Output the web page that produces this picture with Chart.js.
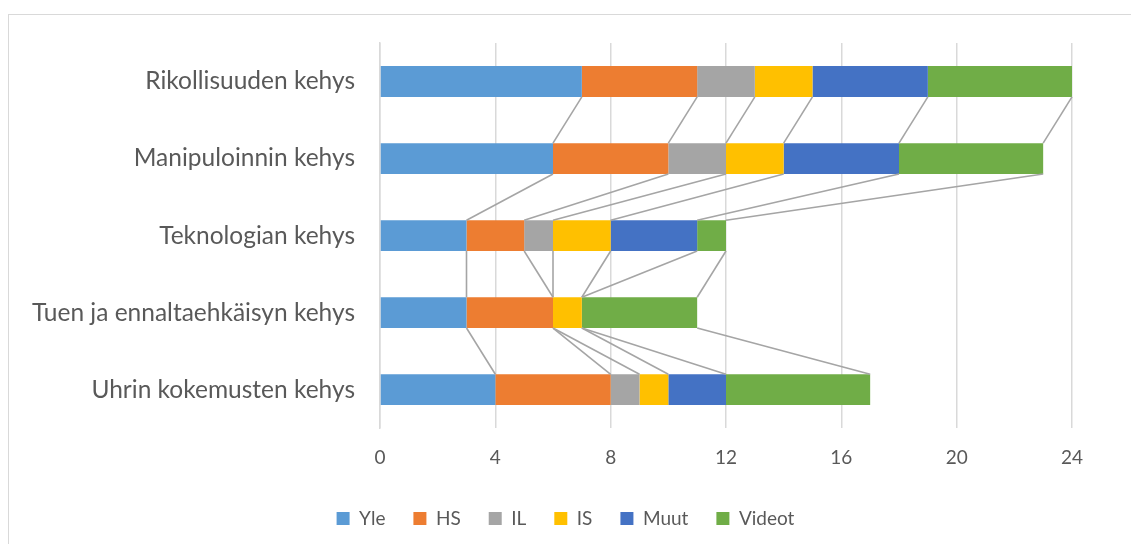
<!DOCTYPE html>
<html><head><meta charset="utf-8">
<script src="https://cdn.jsdelivr.net/npm/chart.js@4.4.1/dist/chart.umd.min.js"></script>
<style>
html,body{margin:0;padding:0;background:#fff;}
#wrap{position:absolute;left:0;top:0;width:1131px;height:544px;}
#frame{position:absolute;left:8px;top:14px;width:1200px;height:600px;border-left:1.5px solid #d9d9d9;border-top:1.5px solid #d9d9d9;}
</style></head>
<body>
<div id="frame"></div>
<div id="wrap"><canvas id="c" width="1131" height="544"></canvas></div>
<script>
const categories = ["Rikollisuuden kehys","Manipuloinnin kehys","Teknologian kehys","Tuen ja ennaltaehkäisyn kehys","Uhrin kokemusten kehys"];
const yle    = [7, 6, 3, 3, 4];
const hs     = [4, 4, 2, 3, 4];
const il     = [2, 2, 1, 0, 1];
const is_    = [2, 2, 2, 1, 1];
const muut   = [4, 4, 3, 0, 2];
const videot = [5, 5, 1, 4, 5];
const xTicks = [0, 4, 8, 12, 16, 20, 24];

const seriesNames = ["Yle","HS","IL","IS","Muut","Videot"];
const seriesData = [yle, hs, il, is_, muut, videot];
const colors = ["#5b9bd5","#ed7d31","#a5a5a5","#ffc000","#4472c4","#70ad47"];
const FONT = "Lato, 'Liberation Sans', sans-serif";

const seriesLines = {
  id: 'seriesLines',
  afterLayout(chart) {
    // centre the legend on the full canvas width
    const lg = chart.legend;
    if (lg) { const d = (chart.width - (lg.left + lg.right)) / 2; lg.left += d; lg.right += d; }
  },
  afterDatasetsDraw(chart) {
    const ctx = chart.ctx, xs = chart.scales.x, ys = chart.scales.y;
    const half = chart.getDatasetMeta(0).data[0].height / 2;
    ctx.save();
    ctx.strokeStyle = '#a5a5a5';
    ctx.lineWidth = 1.6;
    for (let i = 0; i < categories.length - 1; i++) {
      let c1 = 0, c2 = 0;
      for (let k = 0; k < seriesData.length; k++) {
        c1 += seriesData[k][i]; c2 += seriesData[k][i + 1];
        ctx.beginPath();
        ctx.moveTo(xs.getPixelForValue(c1), ys.getPixelForValue(i) + half);
        ctx.lineTo(xs.getPixelForValue(c2), ys.getPixelForValue(i + 1) - half);
        ctx.stroke();
      }
    }
    ctx.restore();
  }
};

new Chart(document.getElementById('c'), {
  type: 'bar',
  data: {
    labels: categories,
    datasets: seriesNames.map((n, k) => ({
      label: n, data: seriesData[k], backgroundColor: colors[k],
      borderWidth: 0, barPercentage: 0.8, categoryPercentage: 0.5
    }))
  },
  options: {
    indexAxis: 'y',
    responsive: false,
    animation: false,
    layout: { padding: { top: 43, right: 59, bottom: 6, left: 0 } },
    scales: {
      x: {
        stacked: true, min: 0, max: 24,
        afterBuildTicks: s => { s.ticks = xTicks.map(v => ({ value: v })); },
        afterFit: s => { s.height -= 6; },
        grid: { color: '#d9d9d9', lineWidth: 1.5, drawTicks: false },
        border: { display: false },
        ticks: { color: '#595959', font: { family: FONT, size: 19 }, padding: 18 }
      },
      y: {
        stacked: true,
        afterFit: s => { s.width = 380; },
        grid: { display: false },
        border: { display: true, color: '#d9d9d9', width: 1.5 },
        ticks: { color: '#595959', font: { family: FONT, size: 24.5 }, padding: 17 }
      }
    },
    plugins: {
      legend: {
        position: 'bottom',
        labels: { color: '#595959', font: { family: FONT, size: 19 }, boxWidth: 13, boxHeight: 13, padding: 28 }
      },
      tooltip: { enabled: false }
    }
  },
  plugins: [seriesLines]
});
</script>
</body></html>
